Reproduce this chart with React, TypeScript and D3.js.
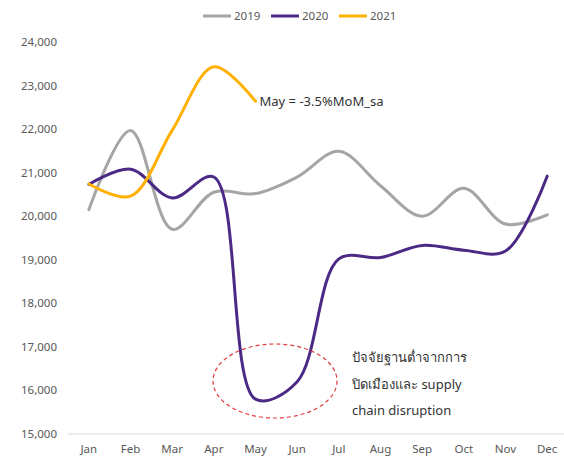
import * as React from 'react';
import * as d3 from 'd3';

const months = ['Jan', 'Feb', 'Mar', 'Apr', 'May', 'Jun', 'Jul', 'Aug', 'Sep', 'Oct', 'Nov', 'Dec'];
const s2019 = [20150, 21970, 19700, 20550, 20520, 20900, 21490, 20700, 20000, 20640, 19820, 20030];
const s2020 = [20730, 21080, 20420, 20900, 15800, 16200, 19020, 19050, 19330, 19220, 19200, 20920];
const s2021 = [20740, 20460, 21970, 23430, 22640];
const yTicks = [15000, 16000, 17000, 18000, 19000, 20000, 21000, 22000, 23000, 24000];

const seriesList = [
    { name: '2019', values: s2019, color: '#A5A5A5' },
    { name: '2020', values: s2020, color: '#4B2A86' },
    { name: '2021', values: s2021, color: '#FFB000' },
];

const W = 564;
const H = 457;
const font = '"Noto Sans", "DejaVu Sans", sans-serif';

const App: React.FunctionComponent = () => {
    const x = d3.scaleBand<string>().domain(months).range([68, 568]);
    const y = d3.scaleLinear().domain([15000, 24000]).range([434, 42]);
    const cx = (i: number) => (x(months[i]) as number) + x.bandwidth() / 2;
    const line = d3.line<number>()
        .x((d, i) => cx(i))
        .y(d => y(d))
        .curve(d3.curveCatmullRom.alpha(0.5));
    const fmt = d3.format(',');

    const legendX = [203, 271, 339];

    return (
        <svg width={W} height={H} style={{ position: 'absolute', left: 0, top: 0, fontFamily: font }}>
            <rect width={W} height={H} fill="#fff" />
            {seriesList.map((s, k) => (
                <g key={s.name}>
                    <line x1={legendX[k]} x2={legendX[k] + 28} y1={16} y2={16} stroke={s.color} strokeWidth={3} />
                    <text x={legendX[k] + 31} y={20} fontSize={11.5} fill="#595959">{s.name}</text>
                </g>
            ))}
            {yTicks.map(t => (
                <text key={t} x={57} y={y(t) + 4} textAnchor="end" fontSize={11.5} fill="#595959">{fmt(t)}</text>
            ))}
            <line x1={68} x2={W} y1={y(15000)} y2={y(15000)} stroke="#D9D9D9" strokeWidth={1} />
            {months.map((m, i) => (
                <text key={m} x={cx(i)} y={453} textAnchor="middle" fontSize={11.5} fill="#595959">{m}</text>
            ))}
            {seriesList.map(s => (
                <path key={s.name} d={line(s.values) as string} fill="none" stroke={s.color}
                    strokeWidth={3} strokeLinecap="round" />
            ))}
            <text x={cx(4) + 4} y={y(s2021[4]) + 4.5} fontSize={13} fill="#333">May = -3.5%MoM_sa</text>
            <ellipse cx={275} cy={381} rx={62} ry={37} fill="none" stroke="#E03C3C" strokeWidth={1.2}
                strokeDasharray="4,3" />
            <text x={352} y={362} fontSize={13} fill="#333">ปัจจัยฐานต่ำจากการ</text>
            <text x={352} y={389} fontSize={13} fill="#333">ปิดเมืองและ supply</text>
            <text x={352} y={415} fontSize={13} fill="#333">chain disruption</text>
        </svg>
    );
};

export default App;
